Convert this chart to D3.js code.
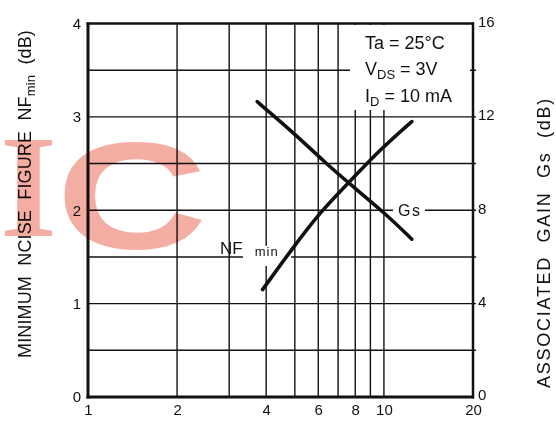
<!DOCTYPE html>
<html><head><meta charset="utf-8">
<script src="https://cdn.jsdelivr.net/npm/d3@7"></script>
<style>
body{margin:0;background:#fff;}
svg{display:block;font-family:"Liberation Sans",Arial,sans-serif;}
text{white-space:pre;}
</style></head><body>
<svg id="c" width="556" height="428"></svg>
<script>
// ---- data ----
const freqTicks = [1, 2, 4, 6, 8, 10, 20];
const freqGrid = [2, 3, 4, 5, 6, 7, 8, 9, 10];
const nfTicks = [0, 1, 2, 3, 4];
const nfGrid = [0.5, 1, 1.5, 2, 2.5, 3, 3.5];
const gsTicks = [0, 4, 8, 12, 16];
const nfFreq = [3.89, 4.85, 6.08, 7.68, 9.78, 12.42];
const nfValues = [1.15, 1.57, 1.98, 2.31, 2.66, 2.95];
const gsFreq = [3.73, 4.94, 6.32, 7.56, 10.2, 12.42];
const gsValues = [12.65, 11.33, 10.05, 9.19, 7.82, 6.76];
const conditions = [["Ta = 25°C", "", ""], ["V", "DS", " = 3V"], ["I", "D", " = 10 mA"]];
const leftTitle = ["MINIMUM  NCISE  FIGURE  NF", "min", "  (dB)"];
const rightTitle = "ASSOCIATED  GAIN  Gs  (dB)";

// ---- scales ----
const svg = d3.select("#c");
const x = d3.scaleLog().domain([1, 20]).range([88, 473]);
const y = d3.scaleLinear().domain([0, 4]).range([397, 23.5]);
const y2 = d3.scaleLinear().domain([0, 16]).range([397, 23.5]);
const ink = "#111";

// grid
const g = svg.append("g").attr("stroke", ink).attr("stroke-width", 1.4);
g.selectAll(".v").data(freqGrid).join("line")
  .attr("x1", d => x(d)).attr("x2", d => x(d)).attr("y1", y(0)).attr("y2", y(4));
g.selectAll(".h").data(nfGrid).join("line")
  .attr("x1", x(1)).attr("x2", x(20) + 3).attr("y1", d => y(d)).attr("y2", d => y(d));

// white backgrounds behind labels
svg.append("rect").attr("x", 350).attr("y", 25).attr("width", 120).attr("height", 85).attr("fill", "#fff");
svg.append("rect").attr("x", 393).attr("y", y2(8) - 9).attr("width", 32).attr("height", 18).attr("fill", "#fff");
svg.append("rect").attr("x", 243).attr("y", y(1.5) - 11).attr("width", 48).attr("height", 20).attr("fill", "#fff");

// curves
const line = d3.line().curve(d3.curveBasis);
svg.append("path")
  .attr("d", line(nfFreq.map((f, i) => [x(f), y(nfValues[i])])))
  .attr("fill", "none").attr("stroke", ink).attr("stroke-width", 3.6).attr("stroke-linecap", "round");
svg.append("path")
  .attr("d", line(gsFreq.map((f, i) => [x(f), y2(gsValues[i])])))
  .attr("fill", "none").attr("stroke", ink).attr("stroke-width", 3.6).attr("stroke-linecap", "round");

// border
const b = svg.append("g").attr("stroke", ink);
b.append("line").attr("x1", x(1)).attr("x2", x(1)).attr("y1", y(4) - 1).attr("y2", y(0) + 1.5).attr("stroke-width", 3);
b.append("line").attr("x1", x(1) - 1.5).attr("x2", x(20) + 1).attr("y1", y(0)).attr("y2", y(0)).attr("stroke-width", 3);
b.append("line").attr("x1", x(1) - 1.5).attr("x2", x(20) + 1).attr("y1", y(4)).attr("y2", y(4)).attr("stroke-width", 2.5);
b.append("line").attr("x1", x(20)).attr("x2", x(20)).attr("y1", y(4) - 1).attr("y2", y(0) + 1.5).attr("stroke-width", 2.5);

// axes
const axL = svg.append("g").attr("transform", `translate(${x(1)},0)`)
  .call(d3.axisLeft(y).tickValues(nfTicks).tickSize(0).tickPadding(7).tickFormat(d3.format("d")));
const axR = svg.append("g").attr("transform", `translate(${x(20)},-2)`)
  .call(d3.axisRight(y2).tickValues(gsTicks).tickSize(0).tickPadding(5).tickFormat(d3.format("d")));
const axB = svg.append("g").attr("transform", `translate(0,${y(0)})`)
  .call(d3.axisBottom(x).tickValues(freqTicks).tickSize(0).tickPadding(7).tickFormat(d3.format("d")));
[axL, axR, axB].forEach(a => {
  a.select(".domain").remove();
  a.selectAll("text").attr("font-size", 15).attr("fill", ink).attr("font-family", "Liberation Sans, Arial, sans-serif");
});

// conditions block
const cond = svg.append("g").attr("fill", ink).attr("font-size", 18);
conditions.forEach((c, i) => {
  const t = cond.append("text").attr("x", 365).attr("y", 49 + i * 26.3);
  t.append("tspan").text(c[0]);
  if (c[1]) {
    t.append("tspan").attr("font-size", 13).attr("dy", 4).text(c[1]);
    t.append("tspan").attr("dy", -4).text(c[2]);
  }
});

// curve labels
svg.append("text").attr("x", 398).attr("y", y2(8) + 6).attr("font-size", 16).attr("fill", ink)
  .attr("letter-spacing", 1.5).text("Gs");
const nfl = svg.append("text").attr("x", 220).attr("y", y(1.5) - 2.5).attr("font-size", 17).attr("fill", ink);
nfl.append("tspan").text("NF");
nfl.append("tspan").attr("dx", 12).attr("dy", 2).attr("font-size", 13).attr("letter-spacing", 1).text("min");

// axis titles
function fit(sel, target) {
  const n = sel.text().length;
  const L = sel.node().getComputedTextLength();
  sel.attr("letter-spacing", (target - L) / n);
}
const lt = svg.append("text").attr("transform", "translate(31,358) rotate(-90)")
  .attr("font-size", 18).attr("fill", ink);
lt.append("tspan").text(leftTitle[0]);
lt.append("tspan").attr("font-size", 13).attr("dy", 4).text(leftTitle[1]);
lt.append("tspan").attr("dy", -4).text(leftTitle[2]);
fit(lt, 328);
const rt = svg.append("text").attr("transform", "translate(550,388) rotate(-90)")
  .attr("font-size", 18).attr("fill", ink).text(rightTitle);
fit(rt, 291);

// watermark
const wm = svg.append("g").attr("fill", "#ee8d80").attr("opacity", 0.72).style("mix-blend-mode", "multiply");
wm.append("text").attr("x", 0).attr("y", 236).attr("font-family", "Liberation Serif, serif")
  .attr("font-weight", "bold").attr("font-size", 146).text("I");
wm.append("text").attr("transform", "translate(56,249) scale(1.38,1)")
  .attr("font-weight", "bold").attr("font-size", 152).text("C");
</script>
</body></html>
